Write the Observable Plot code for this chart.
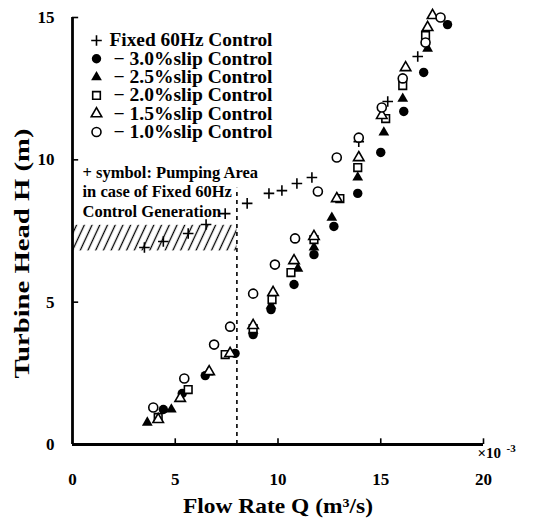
<!DOCTYPE html>
<html>
<head>
<meta charset="utf-8">
<script src="https://cdn.jsdelivr.net/npm/d3@7"></script>
<script src="https://cdn.jsdelivr.net/npm/@observablehq/plot@0.6"></script>
<style>
  body { margin: 0; background: #fff; }
  #chart svg { display: block; }
</style>
</head>
<body>
<div id="chart"></div>
<script>
// ---- tick labels / axis text ----
const xTicks = [0, 5, 10, 15, 20];
const yTicks = [0, 5, 10, 15];
const xTitle = "Flow Rate Q (m³/s)";
const yTitle = "Turbine Head H (m)";
const xExpBase = "×10";
const xExpPow = "-3";
const noteText = "+ symbol: Pumping Area\nin case of Fixed 60Hz\nControl Generation";

// ---- pumping area (hatched) and Q limit (dashed) ----
const pumpQ = [0, 8];
const pumpH = [6.8, 7.7];
const limitQ = 8;
const limitTopH = 9;

// ---- series (Q in 1e-3 m3/s, H in m) ----
const fixedQ = [3.50, 4.42, 5.63, 6.50, 7.43, 8.50, 9.56, 10.19, 10.92, 11.65, 13.93, 15.34, 16.80];
const fixedH = [6.92, 7.13, 7.41, 7.73, 8.11, 8.47, 8.82, 8.92, 9.17, 9.38, 10.64, 12.05, 13.63];

const slip30Q = [4.42, 5.34, 6.46, 7.91, 8.79, 9.66, 10.78, 11.75, 12.72, 13.88, 15.00, 16.12, 17.09, 18.25];
const slip30H = [1.23, 1.79, 2.42, 3.20, 3.86, 4.74, 5.62, 6.67, 7.66, 8.82, 10.26, 11.70, 13.07, 14.75];

const slip25Q = [3.64, 4.81, 6.60, 8.79, 9.66, 10.97, 11.75, 12.62, 13.88, 15.15, 16.07, 17.28];
const slip25H = [0.77, 1.23, 2.53, 4.00, 4.88, 6.18, 6.92, 7.97, 9.38, 10.96, 12.15, 13.91];

const slip20Q = [4.17, 5.63, 7.43, 8.79, 9.71, 10.63, 11.75, 13.01, 13.88, 15.24, 16.07, 17.18];
const slip20H = [0.95, 1.93, 3.16, 4.07, 5.09, 6.04, 7.20, 8.64, 9.73, 11.45, 12.61, 14.37];

const slip15Q = [4.17, 5.24, 6.65, 7.67, 8.79, 9.76, 10.78, 11.75, 12.86, 13.93, 15.05, 16.21, 17.28, 17.52];
const slip15H = [0.88, 1.62, 2.56, 3.20, 4.18, 5.34, 6.46, 7.31, 8.64, 10.08, 11.56, 13.24, 14.65, 15.07];

const slip10Q = [3.93, 5.44, 6.89, 7.67, 8.79, 9.85, 10.83, 11.94, 12.86, 13.93, 15.05, 16.07, 17.18, 17.91];
const slip10H = [1.30, 2.32, 3.51, 4.14, 5.30, 6.32, 7.24, 8.89, 10.08, 10.78, 11.84, 12.86, 14.12, 15.00];

const seriesLabels = ["Fixed 60Hz Control", "− 3.0%slip Control", "− 2.5%slip Control",
                      "− 2.0%slip Control", "− 1.5%slip Control", "− 1.0%slip Control"];

const series = [
  {label: seriesLabels[0], Q: fixedQ,  H: fixedH,  symbol: "plus",     fill: "none",  stroke: "black", r: 3.5},
  {label: seriesLabels[1], Q: slip30Q, H: slip30H, symbol: "circle",   fill: "black", stroke: "none",  r: 4.7},
  {label: seriesLabels[2], Q: slip25Q, H: slip25H, symbol: "triangle", fill: "black", stroke: "none",  r: 4.0},
  {label: seriesLabels[3], Q: slip20Q, H: slip20H, symbol: "square",   fill: "white", stroke: "black", r: 4.3},
  {label: seriesLabels[4], Q: slip15Q, H: slip15H, symbol: "triangle", fill: "white", stroke: "black", r: 3.9},
  {label: seriesLabels[5], Q: slip10Q, H: slip10H, symbol: "circle",   fill: "white", stroke: "black", r: 4.5}
];

const FONT = "'Liberation Serif', 'Times New Roman', Times, serif";

const marks = [
  // hatched pumping area
  Plot.rect([{q1: pumpQ[0], q2: pumpQ[1], h1: pumpH[0], h2: pumpH[1]}],
    {x1: "q1", x2: "q2", y1: "h1", y2: "h2", fill: "url(#hatch)"}),
  // dashed limit line
  Plot.ruleX([limitQ], {y1: 0, y2: limitTopH, stroke: "black", strokeWidth: 1.6, strokeDasharray: "4,4"}),
  // axis lines
  Plot.ruleY([0], {x1: xTicks[0], x2: xTicks[xTicks.length - 1], stroke: "black", strokeWidth: 2.8}),
  Plot.ruleX([0], {y1: yTicks[0], y2: yTicks[yTicks.length - 1], stroke: "black", strokeWidth: 2.8}),
  // inward ticks
  Plot.ruleX(xTicks.slice(1), {y1: 0, y2: 0.2, stroke: "black", strokeWidth: 1.6}),
  Plot.ruleY(yTicks.slice(1), {x1: 0, x2: 0.3, stroke: "black", strokeWidth: 1.6}),
  // tick labels
  Plot.axisX({ticks: xTicks, tickSize: 0, tickPadding: 28, fontSize: 17, fontWeight: "bold", label: null}),
  Plot.axisY({ticks: yTicks, tickSize: 0, tickPadding: 18, fontSize: 17, fontWeight: "bold", label: null}),
  // axis titles
  Plot.text([xTitle], {frameAnchor: "bottom", textAnchor: "middle", lineAnchor: "middle", dy: 61,
    fontSize: 22, fontWeight: "bold", className: "xtitle"}),
  Plot.text([yTitle], {frameAnchor: "left", textAnchor: "middle", lineAnchor: "middle", rotate: -90,
    dx: -51, dy: 22.5, fontSize: 22, fontWeight: "bold", className: "ytitle"}),
  Plot.text([xExpBase], {frameAnchor: "bottom-right", textAnchor: "start", lineAnchor: "middle",
    dx: -6, dy: 9, fontSize: 15, fontWeight: "bold"}),
  Plot.text([xExpPow], {frameAnchor: "bottom-right", textAnchor: "start", lineAnchor: "middle",
    dx: 23, dy: 4, fontSize: 11, fontWeight: "bold"}),
  // annotation
  Plot.text([noteText], {frameAnchor: "top-left", textAnchor: "start", lineAnchor: "middle", lineHeight: 1.18,
    dx: 10, dy: 173.5, fontSize: 16.5, fontWeight: "bold"})
];

// data points
series.forEach(s => {
  const pts = s.Q.map((q, i) => ({Q: q, H: s.H[i]}));
  marks.push(Plot.dot(pts, {x: "Q", y: "H", symbol: () => s.symbol, r: s.r, fill: s.fill, stroke: s.stroke,
    strokeWidth: 1.6}));
});

// legend inside the plot
series.forEach((s, i) => {
  marks.push(Plot.dot([s], {frameAnchor: "top-left", dx: 24, dy: 23 + i * 18.3, symbol: () => s.symbol,
    r: s.r, fill: s.fill, stroke: s.stroke, strokeWidth: 1.6}));
  marks.push(Plot.text([s.label], {frameAnchor: "top-left", textAnchor: "start", lineAnchor: "middle",
    dx: i === 0 ? 37 : 41, dy: 23 + i * 18.3, fontSize: 18.3, fontWeight: "bold", className: "legend-label"}));
});

const svg = Plot.plot({
  width: 553,
  height: 519,
  marginLeft: 72,
  marginRight: 70,
  marginTop: 17,
  marginBottom: 75,
  x: {domain: [xTicks[0], xTicks[xTicks.length - 1]]},
  y: {domain: [yTicks[0], yTicks[yTicks.length - 1]]},
  symbol: {type: "identity"},
  style: {fontFamily: FONT, fontWeight: "bold", background: "white", color: "black", overflow: "visible"},
  marks
});

// hatch pattern
const defs = d3.select(svg).insert("defs", ":first-child");
const pat = defs.append("pattern").attr("id", "hatch").attr("patternUnits", "userSpaceOnUse")
  .attr("width", 7).attr("height", 7).attr("patternTransform", "rotate(25)");
pat.append("line").attr("x1", 3.5).attr("y1", -1).attr("x2", 3.5).attr("y2", 8)
  .attr("stroke", "black").attr("stroke-width", 1.3);

// stretch titles and legend labels to match reference lengths
d3.select(svg).selectAll(".ytitle text").attr("textLength", 250).attr("lengthAdjust", "spacingAndGlyphs");
d3.select(svg).selectAll(".xtitle text").attr("textLength", 190).attr("lengthAdjust", "spacingAndGlyphs");
d3.select(svg).selectAll(".legend-label text").each(function (d, i, nodes) {
  const first = this.textContent.startsWith("Fixed");
  d3.select(this).attr("textLength", first ? 163 : 159).attr("lengthAdjust", "spacingAndGlyphs");
});

document.getElementById("chart").appendChild(svg);
</script>
</body>
</html>
